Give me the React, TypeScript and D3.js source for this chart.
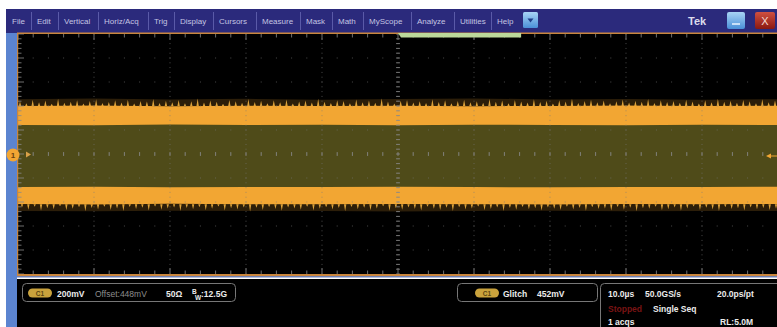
import React from 'react';
import * as d3 from 'd3';

// ---------- data ----------
const menuItems = ["File", "Edit", "Vertical", "Horiz/Acq", "Trig", "Display", "Cursors", "Measure", "Mask", "Math", "MyScope", "Analyze", "Utilities", "Help"];

const timeDivUs = [0, 10, 20, 30, 40, 50, 60, 70, 80, 90, 100];
const offsetMv = 448;
const voltsPerDivMv = 200;

const outerHighMv = [905, 910, 902, 908, 900, 906, 911, 903, 907, 901, 905];
const bandHighMv = [848, 852, 845, 850, 847, 851, 846, 849, 853, 847, 850];
const innerHighMv = [690, 688, 693, 689, 691, 687, 692, 690, 688, 691, 689];
const innerLowMv = [173, 175, 171, 174, 172, 176, 173, 170, 174, 172, 175];
const bandLowMv = [31, 28, 33, 30, 29, 32, 30, 27, 31, 29, 32];
const outerLowMv = [-27, -30, -25, -28, -26, -31, -27, -24, -29, -26, -28];

const spikeTopMv = [38, 22, 51, 30, 44, 18, 60, 27, 35, 48, 20, 41, 55, 25, 33, 46, 29, 52, 19, 40, 36, 58, 24, 43, 31, 49, 21, 38, 62, 28, 45, 34, 17, 50, 39, 26, 57, 32, 42, 23, 47, 30, 54, 20, 37, 44, 28, 59, 35, 25, 48, 40, 22, 53, 31, 45, 27, 61, 36, 19, 43, 50, 29, 38, 24, 56, 33, 46, 21, 41, 52, 30, 39, 26, 58, 34, 44, 23, 49, 37, 28, 55, 32, 42, 20, 47, 36, 60, 25, 40, 51, 31, 45, 22, 38, 54, 29, 43, 35, 57, 24, 48, 33, 41, 27, 52, 37, 19, 46, 30, 59, 34, 42, 26, 50, 38, 23, 55, 31, 44];
const spikeLowMv = [29, 47, 21, 55, 34, 42, 18, 51, 38, 26, 60, 33, 45, 22, 49, 36, 57, 24, 41, 30, 53, 19, 46, 37, 28, 58, 32, 43, 25, 50, 39, 20, 54, 35, 44, 27, 61, 31, 48, 23, 40, 56, 29, 36, 47, 21, 52, 38, 26, 45, 33, 59, 24, 42, 30, 50, 37, 18, 55, 34, 46, 28, 41, 53, 22, 39, 48, 31, 57, 25, 44, 36, 20, 51, 40, 27, 58, 33, 47, 23, 43, 35, 54, 29, 38, 49, 21, 45, 32, 56, 26, 41, 37, 52, 24, 46, 30, 60, 34, 39, 22, 50, 43, 28, 55, 36, 19, 48, 31, 44, 57, 25, 40, 35, 53, 27, 42, 33, 49, 38];

const channelLabel = "C1";
const scaleText = "200mV";
const offsetText = "Offset:448mV";
const impedanceText = "50Ω";
const bandwidthText = "12.5G";
const triggerType = "Glitch";
const triggerLevel = "452mV";
const horizRow1 = ["10.0µs", "50.0GS/s", "20.0ps/pt"];
const horizRow2 = ["Stopped", "Single Seq"];
const horizRow3 = ["1 acqs", "RL:5.0M"];

// ---------- layout ----------
const W = 777, H = 327;
const menuLeft = [12, 37, 64, 104, 154, 180, 219, 262, 306, 338, 369, 417, 460, 497];
const FONT = "'Liberation Sans', Arial, sans-serif";
const ORANGE = "#f2a633";
const OLIVE = "#4f4b19";

export default function App() {
  const gx0 = 18, gx1 = 778, gy0 = 34, gy1 = 274;
  const x = d3.scaleLinear().domain([0, 100]).range([gx0, gx1]);
  const y = d3.scaleLinear().domain([offsetMv - 5 * voltsPerDivMv, offsetMv + 5 * voltsPerDivMv]).range([gy1, gy0]);

  const band = (hi: number[], lo: number[]) =>
    d3.area<number>().x((_, i) => x(timeDivUs[i])).y0((_, i) => y(lo[i])).y1((_, i) => y(hi[i]))(timeDivUs) || "";

  const topBase = d3.mean(bandHighMv) as number;
  const lowBase = d3.mean(bandLowMv) as number;
  const sxTop = d3.scaleLinear().domain([0, spikeTopMv.length - 1]).range([gx0 + 2, W - 2]);
  const sxLow = d3.scaleLinear().domain([0, spikeLowMv.length - 1]).range([gx0 + 4, W - 1]);
  const topSpikes = spikeTopMv.map((v, i) => {
    const cx = sxTop(i);
    return `M${cx - 1.2},${y(topBase)}L${cx},${y(topBase + v)}L${cx + 1.2},${y(topBase)}Z`;
  }).join("");
  const lowSpikes = spikeLowMv.map((v, i) => {
    const cx = sxLow(i);
    return `M${cx - 1.2},${y(lowBase)}L${cx},${y(lowBase - v)}L${cx + 1.2},${y(lowBase)}Z`;
  }).join("");

  const majorT = d3.range(0, 101, 10);
  const minorT = d3.range(0, 100.01, 2);
  const majorV = d3.range(-5, 6).map(d => offsetMv + d * voltsPerDivMv);
  const minorV = d3.range(-25, 26).map(d => offsetMv + d * voltsPerDivMv / 5);
  const cx = x(50), cy = y(offsetMv);

  const dotsV: JSX.Element[] = [];
  majorT.slice(1, -1).forEach(t => {
    minorV.forEach((v, j) => dotsV.push(<rect key={`dv${t}-${j}`} x={x(t) - 0.5} y={y(v) - 0.5} width={1} height={1} fill="#7a7a7a" opacity={0.6} />));
  });
  majorV.slice(1, -1).forEach(v => {
    minorT.forEach((t, j) => dotsV.push(<rect key={`dh${v}-${j}`} x={x(t) - 0.5} y={y(v) - 0.5} width={1} height={1} fill="#7a7a7a" opacity={0.6} />));
  });

  const ticks: JSX.Element[] = [];
  minorT.forEach((t, j) => {
    const major = j % 5 === 0;
    const len = major ? 6 : 3.5;
    ticks.push(<line key={`tt${j}`} x1={x(t)} x2={x(t)} y1={gy0} y2={gy0 + len} />);
    ticks.push(<line key={`tb${j}`} x1={x(t)} x2={x(t)} y1={gy1} y2={gy1 - len} />);
    ticks.push(<line key={`tc${j}`} x1={x(t)} x2={x(t)} y1={cy - 2} y2={cy + 2} />);
  });
  minorV.forEach((v, j) => {
    const major = j % 5 === 0;
    const len = major ? 6 : 3.5;
    ticks.push(<line key={`tl${j}`} x1={gx0} x2={gx0 + len} y1={y(v)} y2={y(v)} />);
    ticks.push(<line key={`tm${j}`} x1={cx - 2} x2={cx + 2} y1={y(v)} y2={y(v)} />);
  });

  const badge = (bx: number, by: number, key: string) => (
    <g key={key}>
      <rect x={bx} y={by} width={24} height={9} rx={4.5} fill="#c9a23c" />
      <text x={bx + 12} y={by + 7} textAnchor="middle" fontSize={6.5} fontWeight="bold" fill="#5a4512" fontFamily={FONT}>{channelLabel}</text>
    </g>
  );

  return (
    <svg width={W} height={H} viewBox={`0 0 ${W} ${H}`} style={{ position: 'fixed', left: 0, top: 0, background: '#ffffff' }}>
      <defs>
        <linearGradient id="btnBlue" x1="0" y1="0" x2="0" y2="1">
          <stop offset="0" stopColor="#a8d4f5" />
          <stop offset="1" stopColor="#4a8fd8" />
        </linearGradient>
        <linearGradient id="btnRed" x1="0" y1="0" x2="0" y2="1">
          <stop offset="0" stopColor="#d05040" />
          <stop offset="1" stopColor="#8a1810" />
        </linearGradient>
        <clipPath id="grat"><rect x={gx0} y={gy0} width={W - gx0} height={gy1 - gy0} /></clipPath>
      </defs>
      <rect x={0} y={0} width={W} height={H} fill="#ffffff" />
      {/* menu bar */}
      <rect x={6} y={9} width={W - 6} height={24} fill="#2b2a7c" />
      {menuItems.map((m, i) => (
        <text key={m} x={menuLeft[i]} y={24} fontSize={8} fill="#c4c4e2" fontFamily={FONT}>{m}</text>
      ))}
      {menuLeft.slice(1).map((l, i) => (
        <line key={`sep${i}`} x1={l - 5.5} x2={l - 5.5} y1={12} y2={30} stroke="#5a5aa8" strokeWidth={1} />
      ))}
      <rect x={523} y={12} width={15} height={16} rx={1.5} fill="url(#btnBlue)" />
      <path d="M527.5,18.5 L533.5,18.5 L530.5,22.5 Z" fill="#1f3f8a" />
      <text x={688} y={25} fontSize={11} fontWeight="bold" fill="#dcdcec" fontFamily={FONT}>Tek</text>
      <rect x={727} y={12} width={18} height={17} rx={2} fill="url(#btnBlue)" />
      <line x1={732} x2={740} y1={24} y2={24} stroke="#eaf4ff" strokeWidth={1.5} />
      <rect x={755} y={12} width={20} height={17} rx={2} fill="url(#btnRed)" />
      <text x={765} y={25} textAnchor="middle" fontSize={11} fill="#f4d8d0" fontFamily={FONT}>X</text>

      {/* left strip */}
      <rect x={6} y={33} width={11} height={H - 33} fill="#5b84d0" />

      {/* graticule background */}
      <rect x={gx0} y={gy0} width={W - gx0} height={gy1 - gy0} fill="#000000" />

      {/* waveform */}
      <g clipPath="url(#grat)">
        <path d={band(outerHighMv, bandHighMv)} fill={ORANGE} opacity={0.18} />
        <path d={topSpikes} fill="#f0b040" opacity={0.9} />
        <path d={band(bandLowMv, outerLowMv)} fill={ORANGE} opacity={0.18} />
        <path d={lowSpikes} fill="#f0b040" opacity={0.9} />
        <path d={band(bandHighMv, bandLowMv)} fill={ORANGE} />
        <path d={band(innerHighMv, innerLowMv)} fill={OLIVE} />
        {dotsV}
        <g stroke="#8a8a8a" strokeWidth={1} opacity={0.8}>{ticks}</g>
      </g>

      {/* borders */}
      <rect x={gx0 - 1} y={gy0 - 1.5} width={W - gx0 + 1} height={1.5} fill="#c9863e" />
      <rect x={gx0 - 1} y={gy0 - 1} width={1.2} height={gy1 - gy0 + 2} fill="#c9863e" />
      <rect x={gx0 - 1} y={gy1} width={W - gx0 + 1} height={2} fill="#c9863e" />
      <rect x={gx0 - 1} y={gy1 + 2} width={W - gx0 + 1} height={1.5} fill="#6d7fb4" />

      {/* trigger position bar */}
      <path d={`M${x(50)},${gy0 - 1} L${x(66.2)},${gy0 - 1} L${x(66.2)},${gy0 + 3.5} L${x(50) + 3},${gy0 + 3.5} Z`} fill="#bcd89a" />

      {/* channel marker */}
      <circle cx={13} cy={y(offsetMv) + 1} r={6.5} fill={ORANGE} />
      <text x={13} y={y(offsetMv) + 4} textAnchor="middle" fontSize={8} fontWeight="bold" fill="#6a4210" fontFamily={FONT}>1</text>
      <path d={`M26,${y(offsetMv) - 2.5} L31,${y(offsetMv) + 0.5} L26,${y(offsetMv) + 3.5} Z`} fill="#d9a048" />
      {/* trigger level marker */}
      <path d={`M766,${y(offsetMv) + 2} L771,${y(offsetMv) - 0.5} L771,${y(offsetMv) + 4.5} Z`} fill={ORANGE} />
      <line x1={771} x2={777} y1={y(offsetMv) + 2} y2={y(offsetMv) + 2} stroke={ORANGE} strokeWidth={1} />

      {/* bottom panel */}
      <rect x={17} y={279} width={W - 17} height={H - 279} fill="#000000" />
      <rect x={22.5} y={283.5} width={213} height={18} rx={4} fill="none" stroke="#777777" strokeWidth={1} />
      {badge(28, 288.5, "b1")}
      <g fontFamily={FONT} fontSize={8.5} fontWeight="bold">
        <text x={57} y={297} fill="#ececec">{scaleText}</text>
        <text x={95} y={297} fill="#8d8d8d" fontWeight="normal">{offsetText}</text>
        <text x={166} y={297} fill="#ececec">{impedanceText}</text>
        <text x={192} y={294} fill="#ececec" fontSize={6.5}>B</text>
        <text x={195} y={299.5} fill="#ececec" fontSize={6.5}>W</text>
        <text x={201} y={297} fill="#ececec">:{bandwidthText}</text>
      </g>
      <rect x={457.5} y={283.5} width={140} height={18} rx={4} fill="none" stroke="#777777" strokeWidth={1} />
      {badge(475, 288.5, "b2")}
      <g fontFamily={FONT} fontSize={8.5} fontWeight="bold" fill="#ececec">
        <text x={503} y={297}>{triggerType}</text>
        <text x={537} y={297}>{triggerLevel}</text>
      </g>
      <rect x={600.5} y={283.5} width={182} height={60} rx={4} fill="none" stroke="#777777" strokeWidth={1} />
      <g fontFamily={FONT} fontSize={8.5} fontWeight="bold" fill="#ececec">
        <text x={608} y={297}>{horizRow1[0]}</text>
        <text x={645} y={297}>{horizRow1[1]}</text>
        <text x={717} y={297}>{horizRow1[2]}</text>
        <text x={608} y={312} fill="#7a1414">{horizRow2[0]}</text>
        <text x={653} y={312}>{horizRow2[1]}</text>
        <text x={608} y={325}>{horizRow3[0]}</text>
        <text x={720} y={325}>{horizRow3[1]}</text>
      </g>
    </svg>
  );
}
